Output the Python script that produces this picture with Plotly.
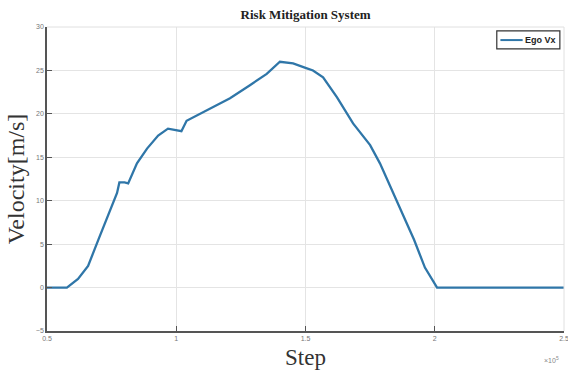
import plotly.graph_objects as go

step = [0.5, 0.577, 0.62, 0.659, 0.70, 0.74, 0.771, 0.78, 0.80, 0.814, 0.83, 0.848, 0.887, 0.93, 0.968,
        1.01, 1.02, 1.04, 1.119, 1.208, 1.285, 1.35, 1.401, 1.452, 1.50, 1.529, 1.568, 1.622,
        1.684, 1.75, 1.788, 1.83, 1.885, 1.92, 1.962, 2.0, 2.009, 2.5]
ego_vx = [0.0, 0.0, 1.0, 2.5, 5.6, 8.6, 10.9, 12.1, 12.1, 12.0, 13.0, 14.3, 16.0, 17.5, 18.3,
          18.1, 18.0, 19.2, 20.4, 21.8, 23.3, 24.6, 26.0, 25.8, 25.3, 25.0, 24.2, 21.9,
          18.9, 16.4, 14.3, 11.5, 8.0, 5.5, 2.3, 0.3, 0.0, 0.0]

x_ticks = [0.5, 1, 1.5, 2, 2.5]
x_ticklabels = ["0.5", "1", "1.5", "2", "2.5"]
y_ticks = [-5, 0, 5, 10, 15, 20, 25, 30]
series_name = "Ego Vx"
line_color = "#2f76a8"

fig = go.Figure()
fig.add_trace(go.Scatter(x=step, y=ego_vx, mode="lines", name=series_name, showlegend=False,
                         line=dict(color=line_color, width=2.3)))

fig.update_layout(
    width=568, height=375,
    margin=dict(l=47, r=4, t=27, b=44),
    paper_bgcolor="white", plot_bgcolor="white",
    title=dict(text="<b>Risk Mitigation System</b>", x=0.538, xanchor="center", y=0.962, yanchor="middle",
               font=dict(family="Liberation Serif", size=13, color="#222")),
)
fig.update_xaxes(range=[0.5, 2.5], tickvals=x_ticks, ticktext=x_ticklabels, showgrid=True,
                 gridcolor="#e4e4e4", gridwidth=1, zeroline=False, showline=True, linecolor="#555",
                 linewidth=1.5, mirror=False, ticks="inside", ticklen=5, tickcolor="#555",
                 ticklabeloverflow="allow", automargin=False,
                 tickfont=dict(family="Liberation Sans", size=7, color="#777"),
                 title=dict(text="Step", standoff=8, font=dict(family="Liberation Serif", size=23, color="#333")))
fig.update_yaxes(range=[-5, 30], tickvals=y_ticks, showgrid=True, automargin=False,
                 gridcolor="#e4e4e4", gridwidth=1, zeroline=False, showline=True, linecolor="#555",
                 linewidth=1.5, ticks="inside", ticklen=5, tickcolor="#555",
                 tickfont=dict(family="Liberation Sans", size=7, color="#777"),
                 title=dict(text="Velocity[m/s]", standoff=4, font=dict(family="Liberation Serif", size=24, color="#333")))
# faint top/right frame
fig.add_shape(type="line", xref="paper", yref="paper", x0=0, x1=1, y0=1, y1=1, line=dict(color="#e0e0e0", width=1))
fig.add_shape(type="line", xref="paper", yref="paper", x0=1, x1=1, y0=0, y1=1, line=dict(color="#e0e0e0", width=1))
fig.add_annotation(text="×10<sup>5</sup>", xref="paper", yref="paper", x=0.995, y=-0.075, xanchor="right",
                   yanchor="top", showarrow=False, font=dict(family="Liberation Sans", size=7, color="#888"))

# compact legend box
fig.add_shape(type="rect", xref="paper", yref="paper", x0=0.870, x1=0.992, y0=0.928, y1=0.987,
              line=dict(color="#333", width=1.2), fillcolor="white")
fig.add_shape(type="line", xref="paper", yref="paper", x0=0.877, x1=0.920, y0=0.957, y1=0.957,
              line=dict(color=line_color, width=2))
fig.add_annotation(text="<b>" + series_name + "</b>", xref="paper", yref="paper", x=0.921, y=0.957,
                   xanchor="left", yanchor="middle", showarrow=False,
                   font=dict(family="Liberation Sans", size=9, color="#222"))

fig.write_html("out.html")
